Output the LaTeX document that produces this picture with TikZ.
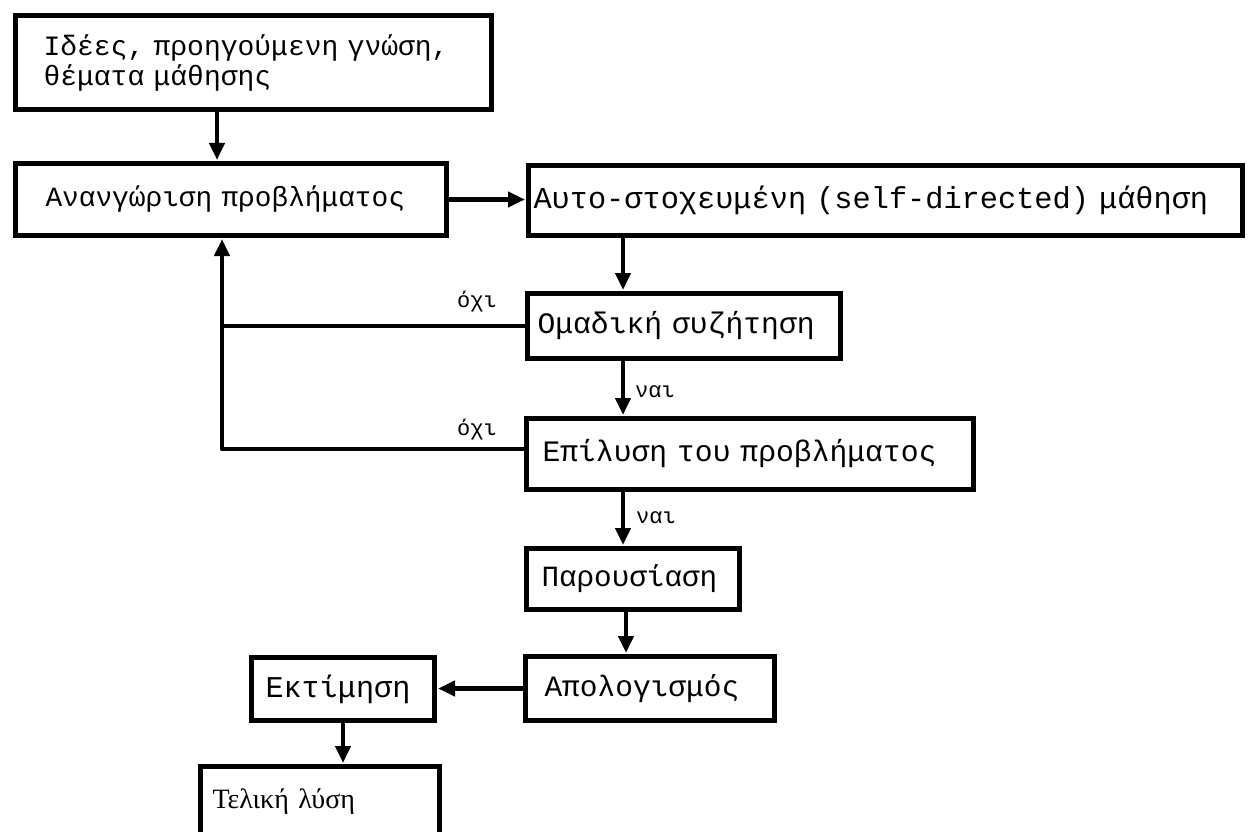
\documentclass[tikz,border=0pt]{standalone}
\usepackage{fontspec}
\setmainfont{Liberation Serif}
\setmonofont{Liberation Mono}
\usetikzlibrary{arrows.meta,calc}
\tikzset{
  box/.style={draw=black, line width=5pt, rectangle, fill=white, anchor=north west, align=left, inner ysep=0pt},
  conn/.style={draw=black, line width=4.5pt},
  arr/.style={conn, -{Triangle[width=15pt,length=17pt]}, shorten >=1pt},
  lab/.style={font=\ttfamily\fontsize{22}{24}\selectfont, inner sep=0pt}
}
\newcommand{\mono}[1]{\ttfamily\fontsize{#1}{#1}\selectfont}
\begin{document}
\begin{tikzpicture}[x=1pt,y=-1pt]
\useasboundingbox (0,0) rectangle (1248,832);
\clip (0,0) rectangle (1248,832);
\fill[white] (0,0) rectangle (1248,832);
\coordinate (x217) at (217,0);
\coordinate (x623) at (623,0);
\coordinate (x626) at (626,0);
\coordinate (fb) at (222,449);

\node[box, text width=420pt, inner xsep=28pt, minimum height=94pt, font={\ttfamily\fontsize{28}{30}\selectfont}] (b1) at (13,13) {Ιδέες, προηγούμενη γνώση,\\θέματα μάθησης};
\node[box, text width=371pt, inner xsep=30pt, minimum height=72pt, font={\mono{27.8}}] (b2) at (13,161) {Ανανγώριση προβλήματος};
\node[box, text width=704pt, inner xsep=5pt, minimum height=70pt, font={\mono{30.3}}] (b3) at (526,163) {Αυτο-στοχευμένη (self-directed) μάθηση};
\node[box, text width=293pt, inner xsep=10pt, minimum height=65pt, font={\mono{29.7}}] (b4) at (525,291) {Ομαδική συζήτηση};
\node[box, text width=415pt, inner xsep=16pt, minimum height=71pt, font={\mono{29.7}}] (b5) at (524,416) {Επίλυση του προβλήματος};
\node[box, text width=183pt, inner xsep=15pt, minimum height=61pt, font={\mono{29.3}}] (b6) at (524,546) {Παρουσίαση};
\node[box, text width=211pt, inner xsep=19pt, minimum height=64pt, font={\mono{29.5}}] (b7) at (523,654) {Απολογισμός};
\node[box, text width=155pt, inner xsep=14pt, minimum height=63pt, font={\mono{30.2}}] (b8) at (249,655) {Εκτίμηση};
\node[box, text width=215pt, inner xsep=12pt, minimum height=70pt, font={\fontsize{28}{30}\selectfont}] (b9) at (198,764) {Τελική λύση};

\draw[arr] (b1.south -| x217) -- (b2.north -| x217);
\draw[arr] (b2.east) -- (b3.west |- b2.east);
\draw[arr] (b3.south -| x623) -- (b4.north -| x623);
\draw[arr] (b4.south -| x623) -- (b5.north -| x623);
\draw[arr] (b5.south -| x623) -- (b6.north -| x623);
\draw[arr] (b6.south -| x626) -- (b7.north -| x626);
\draw[arr] (b7.west) -- (b8.east |- b7.west);
\draw[arr] (b8.south) -- (b9.north -| b8.south);

\draw[conn] (b4.west) -- (b4.west -| fb);
\draw[arr, line join=round] (b5.west |- fb) -- (fb) -- (fb |- b2.south);

\node[lab] (l1) at (477,302) {όχι};
\node[lab] (l2) at (477,430) {όχι};
\node[lab] (l3) at (655,392) {ναι};
\node[lab] (l4) at (656,518) {ναι};
\end{tikzpicture}
\end{document}
